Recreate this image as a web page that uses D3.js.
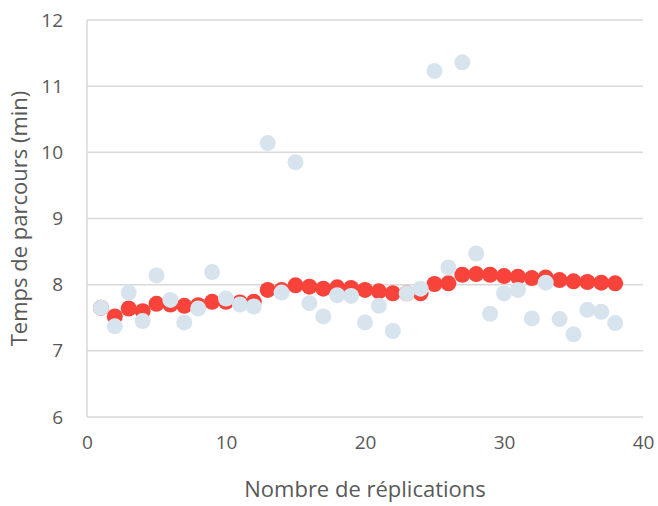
<!DOCTYPE html>
<html>
<head>
<meta charset="utf-8">
<script src="https://cdn.jsdelivr.net/npm/d3@7"></script>
<style>
  body { margin: 0; background: #fff; }
  text { font-family: "Open Sans", "Liberation Sans", sans-serif; fill: #595959; }
</style>
</head>
<body>
<div id="chart"></div>
<script>
// replication number
const replications = d3.range(1, 39);

// individual run values (light blue)
const runValues = [7.65, 7.37, 7.88, 7.45, 8.14, 7.77, 7.43, 7.64, 8.19, 7.79,
  7.70, 7.67, 10.14, 7.88, 9.85, 7.72, 7.52, 7.84, 7.83, 7.43,
  7.68, 7.30, 7.87, 7.94, 11.23, 8.26, 11.36, 8.47, 7.56, 7.87,
  7.92, 7.49, 8.03, 7.48, 7.25, 7.62, 7.59, 7.42];

// running mean values (red)
const meanValues = [7.65, 7.52, 7.64, 7.60, 7.71, 7.70, 7.68, 7.69, 7.74, 7.74,
  7.73, 7.74, 7.92, 7.92, 7.99, 7.97, 7.94, 7.96, 7.95, 7.92,
  7.90, 7.87, 7.87, 7.87, 8.01, 8.02, 8.15, 8.16, 8.15, 8.13,
  8.12, 8.10, 8.11, 8.07, 8.05, 8.04, 8.03, 8.02];

const xTicks = [0, 10, 20, 30, 40];
const yTicks = [6, 7, 8, 9, 10, 11, 12];

const margin = { top: 20, right: 15, bottom: 89, left: 87 },
  width = 658 - margin.left - margin.right,
  height = 506 - margin.top - margin.bottom;

const svg = d3.select("#chart")
  .append("svg")
  .attr("width", 658)
  .attr("height", 506)
  .append("g")
  .attr("transform", `translate(${margin.left},${margin.top})`);

const x = d3.scaleLinear().domain([0, 40]).range([0, width]);
const y = d3.scaleLinear().domain([6, 12]).range([height, 0]);

// horizontal gridlines
svg.append("g")
  .selectAll("line")
  .data(yTicks)
  .join("line")
  .attr("x1", 0)
  .attr("x2", width)
  .attr("y1", d => y(d))
  .attr("y2", d => y(d))
  .attr("stroke", "#d9d9d9")
  .attr("stroke-width", 1.5);

// y axis line
svg.append("line")
  .attr("x1", 0).attr("x2", 0)
  .attr("y1", 0).attr("y2", height)
  .attr("stroke", "#d9d9d9")
  .attr("stroke-width", 1.5);

// tick labels
const yAxis = svg.append("g")
  .call(d3.axisLeft(y).tickValues(yTicks).tickFormat(d3.format("d")).tickSize(0).tickPadding(24));
yAxis.select(".domain").remove();
yAxis.selectAll("text").style("font-size", "19px").attr("fill", "#595959");

const xAxis = svg.append("g")
  .attr("transform", `translate(0, ${height})`)
  .call(d3.axisBottom(x).tickValues(xTicks).tickFormat(d3.format("d")).tickSize(0).tickPadding(19));
xAxis.select(".domain").remove();
xAxis.selectAll("text").style("font-size", "19px").attr("fill", "#595959");

// running mean (drawn below)
svg.append("g")
  .selectAll("circle")
  .data(replications)
  .join("circle")
  .attr("cx", d => x(d))
  .attr("cy", (d, i) => y(meanValues[i]))
  .attr("r", 8)
  .attr("fill", "#f8433b");

// individual runs
svg.append("g")
  .selectAll("circle")
  .data(replications)
  .join("circle")
  .attr("cx", d => x(d))
  .attr("cy", (d, i) => y(runValues[i]))
  .attr("r", 8)
  .attr("fill", "#d7e4ee");

// axis titles
svg.append("text")
  .attr("x", width / 2)
  .attr("y", height + 80)
  .attr("text-anchor", "middle")
  .style("font-size", "22px")
  .text("Nombre de réplications");

svg.append("text")
  .attr("transform", `translate(${-60}, ${height / 2}) rotate(-90)`)
  .attr("text-anchor", "middle")
  .style("font-size", "22px")
  .text("Temps de parcours (min)");
</script>
</body>
</html>
